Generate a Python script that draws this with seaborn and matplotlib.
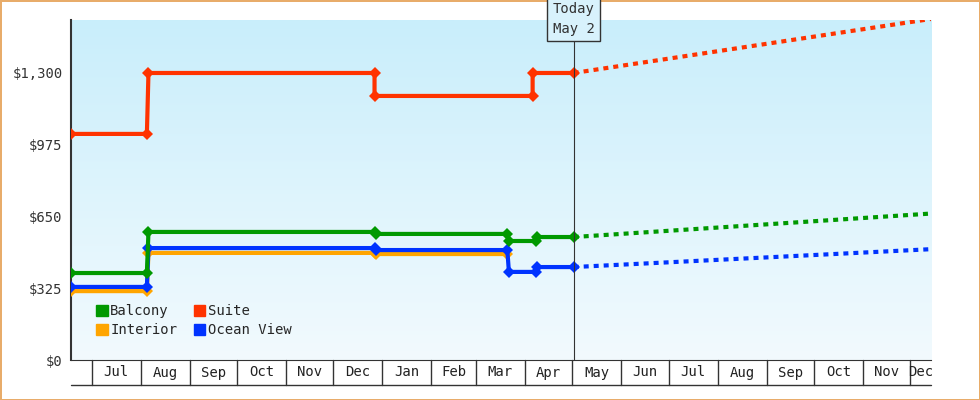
import numpy as np
import pandas as pd
import matplotlib
matplotlib.use("Agg")
import matplotlib.pyplot as plt
import matplotlib.transforms as mtransforms
import seaborn as sns

# x in days since Jul 1 (year 1); today = May 2 = day 305
month_labels = ["Jul","Aug","Sep","Oct","Nov","Dec","Jan","Feb","Mar","Apr","May","Jun","Jul","Aug","Sep","Oct","Nov","Dec"]
month_starts = [0,31,62,92,123,153,184,215,243,274,304,335,365,396,427,457,488,518]
today = 305

suite_x = [-13, 35, 36, 179, 179, 279, 279, today]
suite_y = [1024, 1024, 1300, 1300, 1196, 1196, 1300, 1300]
balcony_x = [-13, 35, 36, 179, 180, 263, 264, 281, 282, today]
balcony_y = [394, 394, 580, 580, 571, 571, 539, 539, 557, 557]
interior_x = [-13, 35, 36, 179, 180, 263]
interior_y = [312, 312, 485, 485, 480, 480]
ocean_x = [-13, 35, 36, 179, 180, 263, 264, 281, 282, today]
ocean_y = [331, 331, 507, 507, 498, 498, 399, 399, 421, 421]

fc_x = [today, 545]
suite_fc = [1300, 1560]
balcony_fc = [557, 670]
ocean_fc = [421, 507]

colors = {"Balcony": "#009900", "Interior": "#ffa500", "Suite": "#ff3300", "Ocean View": "#0033ff"}

sns.set_style("white")
plt.rcParams["font.family"] = ["DejaVu Sans Mono"]

fig = plt.figure(figsize=(9.8, 4), dpi=100)
fig.patch.set_edgecolor("#e8ac6a")
fig.patch.set_linewidth(2)
ax = fig.add_axes([71/980, 40/400, 860/980, 340/400])

grad = np.linspace(0, 1, 256).reshape(-1, 1)
cmap = matplotlib.colors.LinearSegmentedColormap.from_list("g", ["#f2fafe", "#c9eefb"])
ax.imshow(grad, extent=[0, 1, 0, 1], transform=ax.transAxes, cmap=cmap, origin="lower", aspect="auto", zorder=0)

rows = []
for name, xs, ys in [("Balcony", balcony_x, balcony_y), ("Interior", interior_x, interior_y),
                     ("Suite", suite_x, suite_y), ("Ocean View", ocean_x, ocean_y)]:
    for i, (x, y) in enumerate(zip(xs, ys)):
        rows.append({"series": name, "x": x, "y": y, "i": i})
df = pd.DataFrame(rows)
order = ["Interior", "Ocean View", "Balcony", "Suite"]
for name in order:
    d = df[df.series == name]
    sns.lineplot(data=d, x="x", y="y", sort=False, color=colors[name], lw=3, marker="D",
                 markersize=6, markeredgewidth=0, ax=ax, zorder=3, estimator=None)

fcrows = []
for name, ys in [("Suite", suite_fc), ("Balcony", balcony_fc), ("Ocean View", ocean_fc)]:
    for x, y in zip(fc_x, ys):
        fcrows.append({"series": name, "x": x, "y": y})
fdf = pd.DataFrame(fcrows)
for name in ["Suite", "Balcony", "Ocean View"]:
    sns.lineplot(data=fdf[fdf.series == name], x="x", y="y", color=colors[name], lw=3,
                 linestyle=(0, (1.2, 1.2)), ax=ax, zorder=3)

ax.set_xlim(-13, 531)
ax.set_ylim(0, 1540)
ax.set_xlabel("")
ax.set_ylabel("")
yt = [0, 325, 650, 975, 1300]
ax.set_yticks(yt)
ax.set_yticklabels([f"${v:,}" for v in yt], fontsize=10, color="#333333")
ax.tick_params(axis="y", length=4, width=2, color="#333333", pad=2)
for s in ["top", "right"]:
    ax.spines[s].set_visible(False)
ax.spines["left"].set_color("#333333")
ax.spines["left"].set_linewidth(1.5)
ax.spines["bottom"].set_color("#333333")

# month band under axis
ax.set_xticks([])
trans = mtransforms.blended_transform_factory(ax.transData, ax.transAxes)
bot = -25/340
for s in month_starts:
    ax.plot([s, s], [0, bot], transform=trans, color="#333333", lw=1, clip_on=False)
ax.plot([-13, 531], [bot, bot], transform=trans, color="#333333", lw=1, clip_on=False)
edges = month_starts + [531]
for lab, a, b in zip(month_labels, edges[:-1], edges[1:]):
    ax.text((a + b) / 2, bot / 2, lab, transform=trans, ha="center", va="center", fontsize=10, color="#222222")

# today marker
ax.plot([today, today], [0, 1 + 0 * 1], transform=trans, color="#333333", lw=0.8, zorder=4)
ax.text(today, 1 + 1/340, "Today\nMay 2", transform=trans, ha="center", va="center", fontsize=10,
        color="#333333", linespacing=1.5,
        bbox=dict(boxstyle="square,pad=0.4", fc="#d8f2fc", ec="#333333", lw=1), zorder=5, clip_on=False)

from matplotlib.patches import Patch
handles = [Patch(color=colors[n], label=n) for n in ["Balcony", "Interior", "Suite", "Ocean View"]]
ax.legend(handles=handles, ncol=2, loc="lower left", bbox_to_anchor=(0.015, 0.03), frameon=False,
          fontsize=10, handlelength=0.8, handleheight=0.8, handletextpad=0.2, columnspacing=1.2,
          labelspacing=0.35)

fig.savefig("out.png", dpi=100)
